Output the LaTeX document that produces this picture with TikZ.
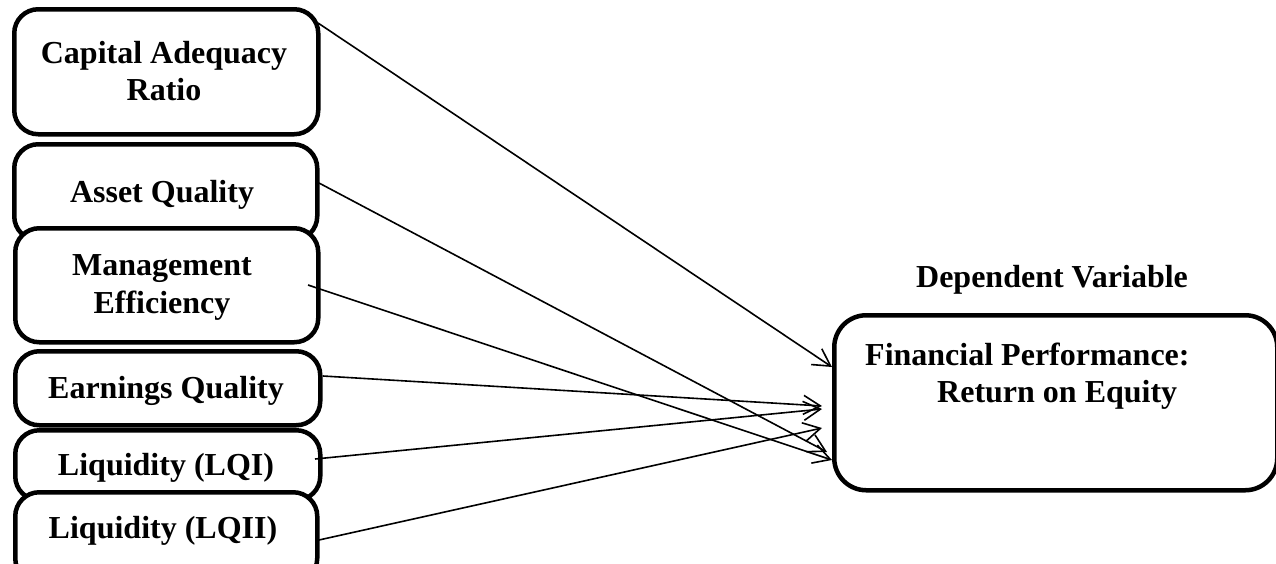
\documentclass[tikz,border=0pt]{standalone}
\usepackage{fontspec}
\setmainfont{Liberation Serif}
\usetikzlibrary{arrows.meta}
\tikzset{
  varbox/.style={draw=black, line width=4.5pt, rounded corners=24pt, fill=white,
    inner sep=0pt, anchor=north west},
  depbox/.style={varbox, rounded corners=32pt},
  lbl/.style={font=\fontsize{32}{37}\selectfont\bfseries, inner sep=0pt, anchor=base},
  lblw/.style={lbl, anchor=base west},
  link/.style={line width=1.6pt, -{Straight Barb[length=17pt,width=19pt,line width=1.6pt]}},
}
\begin{document}
\begin{tikzpicture}[x=1pt,y=-1pt]
\useasboundingbox (0,0) rectangle (1276,563);
\clip (0,0) rectangle (1276,563);

% independent variables, stacked on the left
\node[varbox, minimum width=304pt, minimum height=125pt] (car) at (12,7) {};
\node[lbl] (carA) at (164,63) {Capital Adequacy};
\node[lbl] (carB) at (164,100) {Ratio};

\node[varbox, minimum width=303pt, minimum height=96pt] (aq) at (12,142) {};
\node[lbl] (aqT) at (162,202) {Asset Quality};

\node[varbox, minimum width=303pt, minimum height=114pt] (me) at (13,226) {};
\node[lbl] (meA) at (162,275) {Management};
\node[lbl] (meB) at (162,313) {Efficiency};

\node[varbox, minimum width=305pt, minimum height=74pt] (eq) at (13,349) {};
\node[lbl] (eqT) at (166,398) {Earnings Quality};

\node[varbox, minimum width=305pt, minimum height=70pt] (lq1) at (13,428) {};
\node[lbl] (lq1T) at (166,475) {Liquidity (LQI)};

\node[varbox, minimum width=302pt, minimum height=90pt] (lq2) at (13,490) {};
\node[lbl] (lq2T) at (163,538) {Liquidity (LQII)};

% dependent variable
\node[lbl] (depT) at (1052,287) {Dependent Variable};
\node[depbox, minimum width=443pt, minimum height=175pt] (roe) at (832,313) {};
\node[lblw] (roeA) at (865,365) {Financial Performance:};
\node[lblw] (roeB) at (937,402) {Return on Equity};

% connector end points
\coordinate (sCar) at (318,23);
\coordinate (sAq)  at (319,183);
\coordinate (sMe)  at (308,285);
\coordinate (sEq)  at (323,376);
\coordinate (sLq1) at (315,459);
\coordinate (sLq2) at (319,540);

\coordinate (tCar) at (832,367);
\coordinate (tEq)  at (822,406);
\coordinate (tLq1) at (822,409);
\coordinate (tLq2) at (822,428);
\coordinate (tAq)  at (827,452);
\coordinate (tMe)  at (832,460);

\draw[link] (sCar) -- (tCar);
\draw[link] (sAq)  -- (tAq);
\draw[link] (sMe)  -- (tMe);
\draw[link] (sEq)  -- (tEq);
\draw[link] (sLq1) -- (tLq1);
\draw[link] (sLq2) -- (tLq2);
\end{tikzpicture}
\end{document}
